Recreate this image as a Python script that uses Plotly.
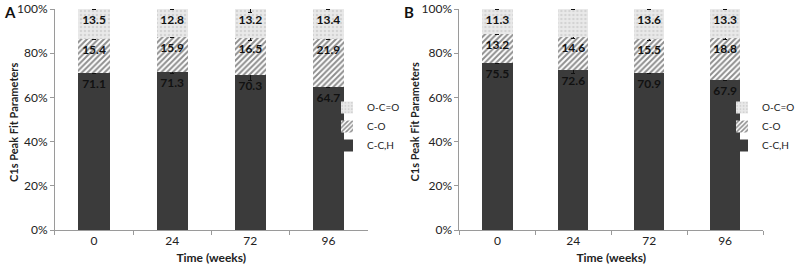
import plotly.graph_objects as go

weeks = ["0", "24", "72", "96"]
series_names = ["C-C,H", "C-O", "O-C=O"]

# Panel A values (%)
a_cch = [71.1, 71.3, 70.3, 64.7]
a_co = [15.4, 15.9, 16.5, 21.9]
a_oco = [13.5, 12.8, 13.2, 13.4]
a_cch_err = [0.3, 0.5, 2.8, 0.3]
a_co_err = [0.2, 0.2, 1.0, 0.2]
a_oco_err = [0.3, 0.3, 1.5, 0.3]

# Panel B values (%)
b_cch = [75.5, 72.6, 70.9, 67.9]
b_co = [13.2, 14.6, 15.5, 18.8]
b_oco = [11.3, 12.9, 13.6, 13.3]
b_cch_err = [0.3, 1.6, 0.3, 0.3]
b_co_err = [0.3, 0.5, 0.5, 0.3]
b_oco_err = [0.3, 0.5, 0.3, 0.3]

FONT = "Lato"
TXT = "#222222"

styles = {
    "C-C,H": dict(color="#3b3b3b", pattern=None),
    "C-O": dict(color="white", pattern=dict(shape="/", fgcolor="#1e1e1e", bgcolor="white", size=4, solidity=0.5)),
    "O-C=O": dict(color="#e4e4e4", pattern=dict(shape=".", fgcolor="#bcbcbc", bgcolor="#e9e9e9", size=4, solidity=0.3)),
}

fig = go.Figure()

def add_panel(vals, errs, xa, ya, legend):
    for name, v, e in zip(series_names, vals, errs):
        st = styles[name]
        marker = dict(color=st["color"], line=dict(width=0))
        if st["pattern"]:
            marker["pattern"] = st["pattern"]
        fig.add_trace(go.Bar(
            x=weeks, y=v, name=name, xaxis=xa, yaxis=ya, legend=legend,
            marker=marker,
            text=[f"<b>{t:.1f}</b>" for t in v], textposition="inside", insidetextanchor="end",
            textfont=dict(family=FONT, size=12, color="#111111"),
            textangle=0, cliponaxis=False,
            error_y=dict(type="data", array=e, color="#111111", thickness=1, width=2),
        ))

add_panel([a_cch, a_co, a_oco], [a_cch_err, a_co_err, a_oco_err], "x", "y", "legend")
add_panel([b_cch, b_co, b_oco], [b_cch_err, b_co_err, b_oco_err], "x2", "y2", "legend2")

ydom = [1 - 230 / 267, 1 - 9 / 267]
axis_common = dict(showline=True, linecolor="#9a9a9a", linewidth=1, ticks="outside",
                   tickcolor="#9a9a9a", ticklen=4, showgrid=False, zeroline=False, automargin=False,
                   tickfont=dict(family=FONT, size=12, color=TXT))
xtitle = dict(text="<b>Time (weeks)</b>", font=dict(family=FONT, size=12, color=TXT), standoff=6)
ytitle_text = "<b>C1s Peak Fit Parameters</b>"

leg_common = dict(xanchor="left", yanchor="top", traceorder="reversed",
                  font=dict(family=FONT, size=10, color=TXT), bgcolor="rgba(0,0,0,0)", itemwidth=30)

fig.update_layout(
    width=800, height=267,
    margin=dict(l=0, r=0, t=0, b=0),
    paper_bgcolor="white", plot_bgcolor="white",
    barmode="stack", bargap=0.6,
    showlegend=True,
    uniformtext=dict(minsize=8, mode="show"),
    xaxis=dict(domain=[55 / 800, 368 / 800], anchor="y", type="category", tickson="boundaries",
               title=xtitle, **axis_common),
    yaxis=dict(domain=ydom, anchor="x", range=[0, 100], tick0=0, dtick=20,
               ticksuffix="%", **axis_common),
    xaxis2=dict(domain=[460 / 800, 764 / 800], anchor="y2", type="category", tickson="boundaries",
                title=xtitle, **axis_common),
    yaxis2=dict(domain=ydom, anchor="x2", range=[0, 100], tick0=0, dtick=20,
                ticksuffix="%", **axis_common),
    legend=dict(x=327 / 800, y=1 - 93 / 267, **leg_common),
    legend2=dict(x=723 / 800, y=1 - 93 / 267, **leg_common),
    annotations=[
        dict(text="<b>A</b>", x=2 / 800, y=1 - 1 / 267, xref="paper", yref="paper", xanchor="left",
             yanchor="top", showarrow=False, font=dict(family=FONT, size=15, color="#111111")),
        dict(text="<b>B</b>", x=403 / 800, y=1 - 1 / 267, xref="paper", yref="paper", xanchor="left",
             yanchor="top", showarrow=False, font=dict(family=FONT, size=15, color="#111111")),
        dict(text=ytitle_text, x=13 / 800, y=1 - 122 / 267, xref="paper", yref="paper", textangle=-90,
             xanchor="center", yanchor="middle", showarrow=False, font=dict(family=FONT, size=11, color=TXT)),
        dict(text=ytitle_text, x=415 / 800, y=1 - 122 / 267, xref="paper", yref="paper", textangle=-90,
             xanchor="center", yanchor="middle", showarrow=False, font=dict(family=FONT, size=11, color=TXT)),
    ],
)

fig.write_html("out.html", config={"displayModeBar": False},
               post_script="document.body.style.margin='0';document.body.style.overflow='hidden';")
